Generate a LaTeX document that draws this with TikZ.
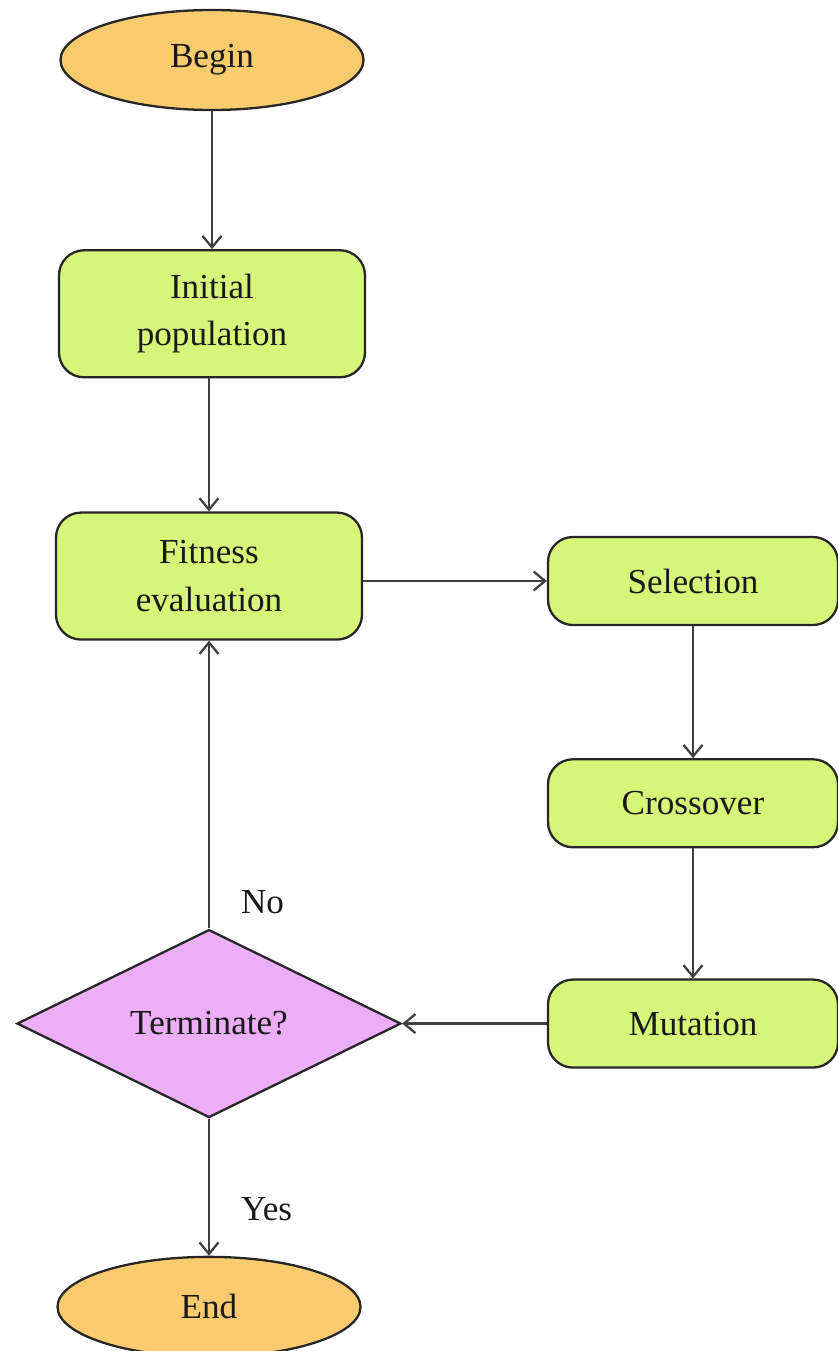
\documentclass[tikz,border=0pt]{standalone}
\usepackage{fontspec}
\setmainfont{Liberation Serif}
\usepackage{tikz}
\usetikzlibrary{shapes.geometric, arrows.meta, positioning}

\definecolor{termfill}{RGB}{250,202,110}
\definecolor{stepfill}{RGB}{214,246,122}
\definecolor{decfill}{RGB}{236,174,246}

\begin{document}
\begin{tikzpicture}[
        node distance=2.7cm,
        terminal/.style={ellipse, draw=black!85, fill=termfill, line width=1.3pt, minimum width=6.06cm, minimum height=2cm, inner sep=0pt, text=black!90, font=\fontsize{20}{27}\selectfont},
        process/.style={rectangle, draw=black!85, fill=stepfill, line width=1.3pt, rounded corners=0.5cm, minimum height=2.54cm, minimum width=6.12cm, align=center, text=black!90, font=\fontsize{20}{27}\selectfont},
        small/.style={process, minimum height=1.76cm, minimum width=5.8cm},
        decision/.style={diamond, draw=black!85, fill=decfill, line width=1.3pt, aspect=2.04, minimum width=7.68cm, minimum height=3.76cm, inner sep=0pt, text=black!90, font=\fontsize{20}{27}\selectfont},
        arrow/.style={-{Straight Barb[length=2.3mm, width=3.8mm]}, line width=1.3pt, color=black!75},
        answer/.style={text=black!90, font=\fontsize{20}{27}\selectfont}
    ]
        \useasboundingbox (0,0) rectangle (16.74,-27.02);
        \node[terminal] (begin) at (4.24,-1.2) {Begin};
        \node[process, below=2.76cm of begin] (init) {Initial\\population};
        \node[process, below=2.66cm of init, xshift=-0.06cm] (fit) {Fitness\\evaluation};
        \node[small] (sel) at (13.86,-11.62) {Selection};
        \node[small, below=2.64cm of sel] (cross) {Crossover};
        \node[small, below=2.6cm of cross] (mut) {Mutation};
        \node[decision] (term) at (fit.center |- mut.center) {Terminate?};
        \node[terminal, below=2.74cm of term] (end) {End};
        \draw[arrow] (begin) -- (init);
        \draw[arrow] (init.south -| fit.north) -- (fit);
        \draw[arrow] (fit.east |- sel.west) -- (sel.west);
        \draw[arrow] (sel) -- (cross);
        \draw[arrow] (cross) -- (mut);
        \draw[arrow] (mut) -- (term);
        \draw[arrow] (term) -- node[answer, pos=0.09, right=0.5cm] {No} (fit);
        \draw[arrow] (term) -- node[answer, pos=0.66, right=0.5cm] {Yes} (end);
    \end{tikzpicture}
\end{document}
